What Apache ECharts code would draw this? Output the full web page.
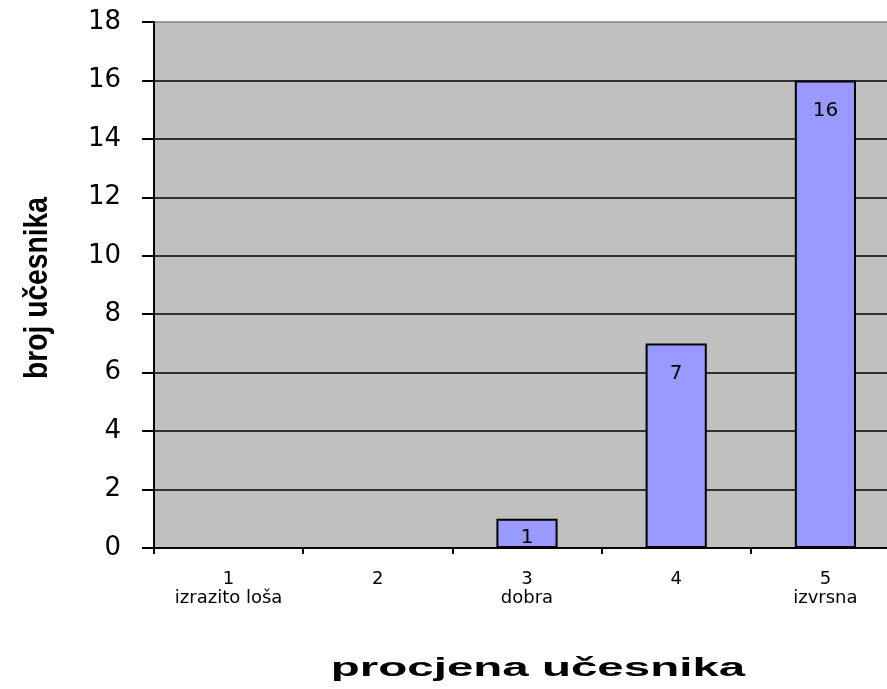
<!DOCTYPE html>
<html><head><meta charset="utf-8">
<script src="https://cdn.jsdelivr.net/npm/echarts@6/dist/echarts.min.js"></script>
<style>html,body{margin:0;padding:0;background:#fff}#c{width:887px;height:689px}</style>
</head><body><div id="c"></div>
<script>
const categories = ['1\nizrazito loša', '2', '3\ndobra', '4', '5\nizvrsna'];
const values = [0, 0, 1, 7, 16];
const yTicks = [0, 2, 4, 6, 8, 10, 12, 14, 16, 18];
const xTitle = 'procjena učesnika';
const yTitle = 'broj učesnika';

const chart = echarts.init(document.getElementById('c'));
chart.setOption({
  animation: false,
  grid: { left: 154, top: 22, width: 746, height: 526, show: true, backgroundColor: '#C0C0C0', borderWidth: 0, outerBoundsMode: 'none', containLabel: false },
  xAxis: {
    type: 'category', data: categories,
    axisLine: { lineStyle: { color: '#000', width: 2 } },
    axisTick: { show: true, length: 6, lineStyle: { color: '#000', width: 2 } },
    axisLabel: { color: '#000', fontFamily: 'DejaVu Sans', fontSize: 18, lineHeight: 19, margin: 22 }
  },
  yAxis: {
    type: 'value', min: yTicks[0], max: yTicks[yTicks.length - 1], interval: 2,
    axisLine: { show: true, lineStyle: { color: '#000', width: 2 } },
    axisTick: { show: true, length: 12, lineStyle: { color: '#000', width: 2 } },
    axisLabel: { color: '#000', fontFamily: 'DejaVu Sans', fontSize: 26, margin: 33 },
    splitLine: { show: true, lineStyle: { color: ['#000','#000','#000','#000','#000','#000','#000','#000','#000','#808080'], width: 1.5 } }
  },
  graphic: [
    { type: 'text', x: 538, y: 669, scaleX: 1.9, style: { text: xTitle, fill: '#000', font: 'bold 25px "Liberation Sans", Arial', align: 'center', verticalAlign: 'middle' } },
    { type: 'text', x: 38, y: 288, rotation: Math.PI / 2, scaleX: 0.83, style: { text: yTitle, fill: '#000', font: 'bold 34px "Liberation Sans", Arial', align: 'center', verticalAlign: 'middle' } }
  ],
  series: [{
    type: 'bar', barWidth: '41%',
    data: values.map(v => ({ value: v, label: { distance: v < 2 ? 9 : 20 } })),
    itemStyle: { color: '#9999FF', borderColor: '#000', borderWidth: 2 },
    label: {
      show: true, position: 'insideTop', color: '#000',
      fontFamily: 'DejaVu Sans', fontSize: 20,
      formatter: p => p.value > 0 ? String(p.value) : ''
    }
  }]
});
</script></body></html>
